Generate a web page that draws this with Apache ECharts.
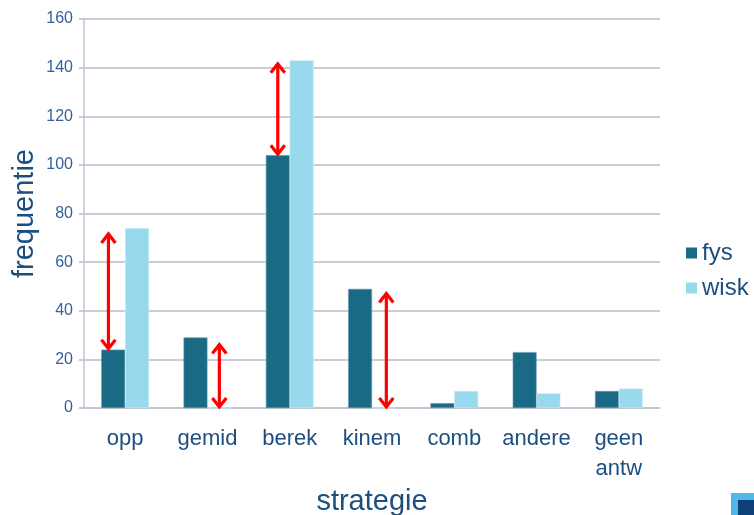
<!DOCTYPE html>
<html><head><meta charset="utf-8">
<script src="https://cdn.jsdelivr.net/npm/echarts@6/dist/echarts.min.js"></script>
<style>html,body{margin:0;padding:0;background:#fff}#c{width:754px;height:515px}</style>
</head><body><div id="c"></div>
<script>
const categories = ['opp','gemid','berek','kinem','comb','andere','geen\nantw'];
const fys = [24, 29, 104, 49, 2, 23, 7];
const wisk = [74, 0, 143, 0, 7, 6, 8];
const yTicks = [0, 20, 40, 60, 80, 100, 120, 140, 160];
// arrows: [category index, from value, to value, slot (-1 = fys bar, +1 = wisk bar)]
const arrows = [
  [0, 24, 72, -1.4],
  [1, 0, 26.5, 1],
  [2, 104, 142, -1],
  [3, 0, 47.5, 1.2]
];
const BAR_FRAC = 0.29;
const chart = echarts.init(document.getElementById('c'));
const FONT = 'Liberation Sans, Arial, sans-serif';
const TXT = '#1c4f7f';
chart.setOption({
  animation: false,
  textStyle: {fontFamily: FONT},
  grid: {left: 84, right: 94, top: 19, bottom: 107, containLabel: false, outerBoundsMode: 'none'},
  legend: {
    orient: 'vertical', left: 681, top: 236, itemWidth: 11, itemHeight: 11, itemGap: 11,
    icon: 'rect',
    itemStyle: {borderWidth: 0},
    textStyle: {fontSize: 24, color: TXT, fontFamily: FONT},
    data: ['fys', 'wisk']
  },
  xAxis: {
    type: 'category', data: categories,
    name: 'strategie', nameLocation: 'middle', nameGap: 79, nameMoveOverlap: false,
    nameTextStyle: {fontSize: 29, color: TXT},
    axisLine: {lineStyle: {color: '#c0c4d0', width: 1.5}},
    axisTick: {show: false},
    axisLabel: {fontSize: 22, color: TXT, margin: 16, lineHeight: 30, interval: 0, verticalAlign: 'top'}
  },
  yAxis: {
    type: 'value', min: 0, max: 160, interval: 20,
    name: 'frequentie', nameLocation: 'middle', nameGap: 45, nameRotate: 90, nameMoveOverlap: false,
    nameTextStyle: {fontSize: 29, color: TXT},
    axisLine: {show: true, lineStyle: {color: '#c0c4d0', width: 1.5}},
    axisTick: {show: true, inside: false, length: 5, lineStyle: {color: '#b8bccb', width: 1.5}},
    axisLabel: {fontSize: 16, color: '#36609a', margin: 11,
      formatter: v => yTicks.includes(v) ? String(v) : ''},
    splitLine: {lineStyle: {color: '#b8bccb', width: 1.5}}
  },
  series: [
    {name: 'fys', type: 'bar', data: fys, barWidth: (BAR_FRAC*100)+'%', barGap: '0%',
      itemStyle: {color: '#1a6a85', borderColor: '#5f97ad', borderWidth: 0.6}},
    {name: 'wisk', type: 'bar', data: wisk, barWidth: (BAR_FRAC*100)+'%', barGap: '0%',
      itemStyle: {color: '#99d9ee', borderColor: '#c4e9f5', borderWidth: 0.6}},
    {name: 'arrows', type: 'custom', data: arrows, z: 10, silent: true,
      renderItem: function (params, api) {
        const cat = api.value(0);
        const band = api.size([1, 0])[0];
        const bw = band * BAR_FRAC;
        const p1 = api.coord([cat, api.value(1)]);
        const p2 = api.coord([cat, api.value(2)]);
        const x = p1[0] + api.value(3) * bw / 2;
        const yb = p1[1], yt = p2[1];
        const hw = 7, hl = 10;
        const st = {stroke: '#ff0000', lineWidth: 3.2, fill: null, lineCap: 'butt', lineJoin: 'miter'};
        return {type: 'group', children: [
          {type: 'line', shape: {x1: x, y1: yb - 1, x2: x, y2: yt + 1}, style: st},
          {type: 'polyline', shape: {points: [[x - hw, yt + hl], [x, yt + 1], [x + hw, yt + hl]]}, style: st},
          {type: 'polyline', shape: {points: [[x - hw, yb - hl], [x, yb - 1], [x + hw, yb - hl]]}, style: st}
        ]};
      }
    }
  ],
  graphic: [
    {type: 'rect', shape: {x: 731, y: 493, width: 30, height: 30}, style: {fill: '#4fb8ea'}},
    {type: 'rect', shape: {x: 738, y: 500, width: 30, height: 30}, style: {fill: '#0d3f78'}}
  ]
});
</script></body></html>
